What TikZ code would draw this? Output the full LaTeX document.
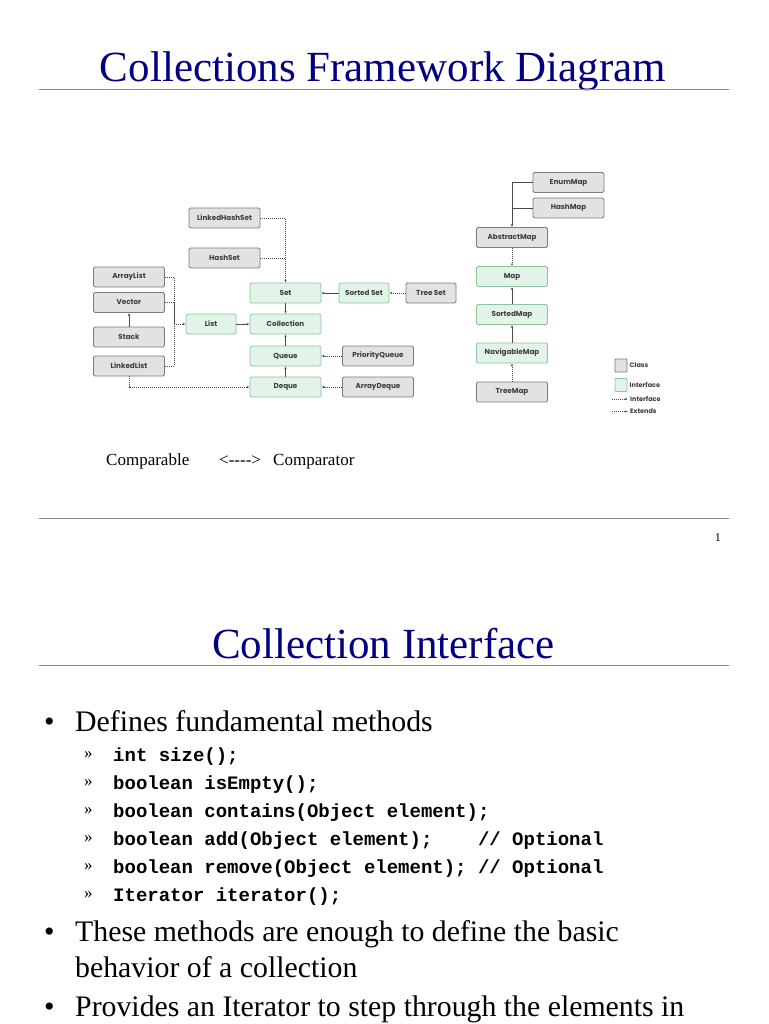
\documentclass[tikz,border=0pt]{standalone}
\usepackage{fontspec}
\setmainfont{Liberation Serif}
\setmonofont{Liberation Mono}
\newfontfamily\boxfont{Poppins}
\usetikzlibrary{arrows.meta,positioning,calc}
\definecolor{Navy}{HTML}{000080}
\definecolor{ClassFill}{HTML}{E2E2E2}
\definecolor{ClassLine}{HTML}{7C7C7C}
\definecolor{IfaceFill}{HTML}{E1F4E7}
\definecolor{IfaceLine}{HTML}{8CC49C}
\definecolor{Wire}{HTML}{4A4A4A}
\definecolor{BoxText}{HTML}{3C3C3C}
\definecolor{Rule}{HTML}{8C8C8C}

\begin{document}
\begin{tikzpicture}[x=1pt,y=-1pt,
  box/.style={draw,rounded corners=1.5pt,line width=0.8pt,minimum height=20pt,
    minimum width=71pt,inner sep=0pt,text=BoxText,
    font=\boxfont\bfseries\fontsize{7.2}{8}\selectfont},
  classbox/.style={box,draw=ClassLine,fill=ClassFill},
  ifacebox/.style={box,draw=IfaceLine,fill=IfaceFill},
  narrow/.style={minimum width=50pt},
  wireline/.style={draw=Wire,line width=0.6pt},
  wire/.style={wireline,-{Latex[length=2.6pt,width=2.2pt]}},
  dotline/.style={wireline,dash pattern=on 1pt off 1pt},
  dotwire/.style={wire,dash pattern=on 1pt off 1pt},
  rulerline/.style={draw=Rule,line width=0.8pt},
  legtext/.style={anchor=west,inner sep=0pt,text=BoxText,font=\boxfont\bfseries\fontsize{6.5}{7}\selectfont},
  slidetitle/.style={anchor=base,inner sep=0pt,text=Navy,font=\fontsize{43}{48}\selectfont},
  bullettext/.style={anchor=base west,inner sep=0pt,font=\fontsize{29.8}{34}\selectfont},
  bulletdot/.style={anchor=base west,inner sep=0pt,font=\fontsize{30}{34}\selectfont},
  chevron/.style={anchor=base west,inner sep=0pt,font=\fontsize{17}{18}\selectfont},
  plaintext/.style={anchor=base west,inner sep=0pt,font=\fontsize{17}{20}\selectfont},
  codeline/.style={anchor=base west,inner sep=0pt,font=\ttfamily\bfseries\fontsize{19}{22}\selectfont}]
  \useasboundingbox[fill=white] (0,0) rectangle (768,1024);

  % slide 1
  \node[slidetitle] (title1) at (383,82) {Collections Framework Diagram};
  \coordinate (rule1a) at (39,89);
  \coordinate (rule1b) at (729,89);
  \draw[rulerline] (rule1a) -- (rule1b);

  \node[classbox] (arraylist) at (129,277) {ArrayList};
  \node[classbox] (vector) at (129,302.5) {Vector};
  \node[classbox] (stack) at (129,337) {Stack};
  \node[classbox] (linkedlist) at (129,366) {LinkedList};
  \node[classbox] (lhashset) at (224.5,218) {LinkedHashSet};
  \node[classbox] (hashset) at (224.5,258) {HashSet};
  \node[ifacebox,narrow] (list) at (211,324) {List};
  \node[ifacebox] (set) at (285.5,293) {Set};
  \node[ifacebox] (collection) at (285.5,324) {Collection};
  \node[ifacebox] (queue) at (285.5,356) {Queue};
  \node[ifacebox] (deque) at (285.5,387) {Deque};
  \node[ifacebox,narrow] (sortedset) at (364,293) {Sorted Set};
  \node[classbox,narrow] (treeset) at (431,293) {Tree Set};
  \node[classbox] (pqueue) at (378,356) {PriorityQueue};
  \node[classbox] (adeque) at (378,387) {ArrayDeque};

  \node[classbox] (enummap) at (568.5,182.5) {EnumMap};
  \node[classbox] (hashmap) at (568.5,208) {HashMap};
  \node[classbox] (abstractmap) at (512,237.5) {AbstractMap};
  \node[ifacebox] (map) at (512,276.5) {Map};
  \node[ifacebox] (sortedmap) at (512,314.5) {SortedMap};
  \node[ifacebox] (navmap) at (512,353) {NavigableMap};
  \node[classbox] (treemap) at (512,392) {TreeMap};

  \coordinate (listbus) at (174,324);
  \draw[dotline] (arraylist.east) -| (listbus);
  \draw[dotline] (vector.east) -| (listbus);
  \draw[dotline] (linkedlist.east) -| (listbus);
  \draw[dotwire] (listbus) -- (list.west);
  \draw[wire] (stack) -- (vector);
  \draw[wire] (list) -- (collection);
  \draw[dotwire] (lhashset.east) -| (set.north);
  \draw[dotline] (hashset.east) -- (hashset.east -| set.north);
  \draw[wire] (set) -- (collection);
  \draw[wire] (sortedset) -- (set);
  \draw[dotwire] (treeset) -- (sortedset);
  \draw[wire] (queue) -- (collection);
  \draw[wire] (deque) -- (queue);
  \draw[dotwire] (pqueue) -- (queue);
  \draw[dotwire] (adeque) -- (deque);
  \draw[dotwire] (linkedlist.south) |- (deque.west);

  \draw[wire] (enummap.west) -| (abstractmap.north);
  \draw[wireline] (hashmap.west) -- (hashmap.west -| abstractmap.north);
  \draw[dotwire] (abstractmap) -- (map);
  \draw[wire] (sortedmap) -- (map);
  \draw[wire] (navmap) -- (sortedmap);
  \draw[dotwire] (treemap) -- (navmap);

  % legend
  \node[classbox,minimum width=12pt,minimum height=13pt,rounded corners=0.8pt] (legclass) at (621,365.5) {};
  \node[legtext] (legclasstext) at (629.5,365.5) {Class};
  \node[ifacebox,minimum width=12pt,minimum height=13pt,rounded corners=0.8pt] (legiface) at (621,385) {};
  \node[legtext] (legifacetext) at (629.5,385) {Interface};
  \coordinate (legimpa) at (612,399);
  \coordinate (legimpb) at (628,399);
  \draw[dotwire] (legimpa) -- (legimpb);
  \node[legtext] (legimptext) at (630,399) {Interface};
  \coordinate (legexta) at (612,411.5);
  \coordinate (legextb) at (628,411.5);
  \draw[dotwire] (legexta) -- (legextb);
  \node[legtext] (legexttext) at (630,411.5) {Extends};

  \node[plaintext] (comparable) at (106,465) {Comparable};
  \node[plaintext] (twoway) at (219,465) {<{-}{-}{-}{-}>};
  \node[plaintext] (comparator) at (273,465) {Comparator};

  \coordinate (rule2a) at (39,518);
  \coordinate (rule2b) at (729,518);
  \draw[rulerline] (rule2a) -- (rule2b);
  \node[anchor=base east,inner sep=0pt,font=\fontsize{12}{14}\selectfont] (pagenum) at (721,541) {1};

  % slide 2
  \node[slidetitle] (title2) at (383.5,658) {Collection Interface};
  \coordinate (rule3a) at (39,665);
  \coordinate (rule3b) at (729,665);
  \draw[rulerline] (rule3a) -- (rule3b);

  \node[bulletdot] (dot1) at (44,731) {•};
  \node[bullettext] (defines) at (75,731) {Defines fundamental methods};
  \foreach \yy/\code [count=\i] in {
      761/{int size();},
      789/{boolean isEmpty();},
      817/{boolean contains(Object element);},
      845/{boolean add(Object element);\ \ \ \ // Optional},
      873/{boolean remove(Object element); // Optional},
      901/{Iterator iterator();}} {
    \node[chevron] (chev\i) at (84,\yy-3) {»};
    \node[codeline] (code\i) at (113,\yy) {\code};
  }
  \node[bulletdot] (dot2) at (44,941) {•};
  \node[bullettext] (enough) at (75,941) {These methods are enough to define the basic};
  \node[bullettext] (behavior) at (75,977) {behavior of a collection};
  \node[bulletdot] (dot3) at (44,1016) {•};
  \node[bullettext] (provides) at (75,1016) {Provides an Iterator to step through the elements in};
\end{tikzpicture}
\end{document}
